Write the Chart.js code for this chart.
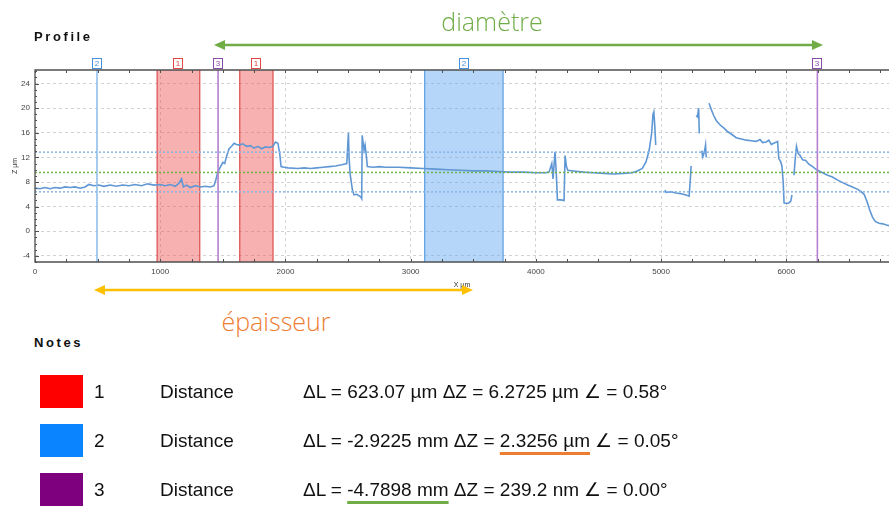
<!DOCTYPE html>
<html>
<head>
<meta charset="utf-8">
<script src="https://cdn.jsdelivr.net/npm/chart.js@4.4.0/dist/chart.umd.min.js"></script>
<style>
    body { margin: 0; width: 889px; height: 507px; overflow: hidden; position: relative; background: #fff; font-family: "Liberation Sans", Arial, sans-serif; color: #111; }
    #profile_chart { position: absolute; left: 0; top: 0; }
    #arrows { position: absolute; left: 0; top: 0; }
    .caption { position: absolute; font-weight: bold; font-size: 13px; letter-spacing: 2.6px; }
    .big_label { position: absolute; font-family: "Open Sans", sans-serif; font-weight: 300; font-size: 25px; line-height: 30px; white-space: nowrap; transform: translateX(-50%); }
    .note_row { position: absolute; left: 0; width: 889px; height: 33px; line-height: 33px; font-size: 19px; white-space: nowrap; }
    .note_row div { position: absolute; top: 0; }
    .swatch { left: 40px; width: 43px; height: 33px; }
</style>
</head>
<body>

<canvas id="profile_chart" width="889" height="300"></canvas>

<div class="caption" style="left:34px; top:29px;">Profile</div>
<div class="big_label" style="left:492px; top:6px; color:#70AD47;">diamètre</div>
<div class="big_label" style="left:276px; top:306px; color:#ED7D31;">épaisseur</div>
<div class="caption" style="left:34px; top:335px;">Notes</div>

<svg id="arrows" width="889" height="507">
    <line x1="222" y1="45" x2="815" y2="45" stroke="#70AD47" stroke-width="2.5"/>
    <polygon points="214,45 225,40 225,50" fill="#70AD47"/>
    <polygon points="823,45 812,40 812,50" fill="#70AD47"/>
    <line x1="102" y1="290" x2="465" y2="290" stroke="#FFC000" stroke-width="2.5"/>
    <polygon points="94,290 105,285 105,295" fill="#FFC000"/>
    <polygon points="473,290 462,285 462,295" fill="#FFC000"/>
</svg>

<div id="notes"></div>

<script>
// profil mesuré (X en µm, Z en µm), null = pas de mesure
var profileX = [
    0, 40, 80, 120, 160, 200, 240, 280, 320, 360,
    400, 430, 470, 510, 550, 600, 650, 700, 750, 800,
    850, 900, 950, 1000, 1040, 1080, 1120, 1150, 1170, 1185,
    1210, 1240, 1280, 1320, 1360, 1400, 1430, 1445, 1460, 1480,
    1500, 1515, 1530, 1550, 1570, 1590, 1610, 1630, 1660, 1690,
    1720, 1750, 1780, 1810, 1840, 1870, 1900, 1920, 1940, 1955,
    1965, 1990, 2020, 2100, 2150, 2200, 2250, 2300, 2350, 2400,
    2450, 2490, 2503, 2508, 2516, 2535, 2548, 2570, 2601, 2609,
    2613, 2628, 2636, 2647, 2654, 2700, 2750, 2800, 2900, 3000,
    3100, 3200, 3300, 3400, 3500, 3600, 3700, 3800, 3900, 4000,
    4079, 4105, 4127, 4137, 4153, 4164, 4172, 4200, 4225, 4233,
    4244, 4255, 4300, 4380, 4460, 4540, 4620, 4700, 4770, 4810,
    4850, 4880, 4905, 4925, 4935, 4942, 4950, 4957, 4990, 5032,
    5040, 5080, 5120, 5160, 5200, 5224, 5232, 5240, 5260, 5280,
    5290, 5300, 5305, 5315, 5325, 5332, 5345, 5355, 5360, 5370,
    5383, 5400, 5420, 5440, 5470, 5500, 5530, 5560, 5600, 5640,
    5680, 5720, 5760, 5790, 5810, 5840, 5860, 5880, 5900, 5930,
    5940, 5955, 5965, 5975, 5982, 6000, 6020, 6036, 6045, 6053,
    6061, 6070, 6081, 6095, 6110, 6130, 6155, 6180, 6210, 6248,
    6290, 6330, 6368, 6410, 6450, 6490, 6528, 6570, 6600, 6621,
    6645, 6665, 6688, 6710, 6741, 6770, 6800, 6820
];
var profileZ = [
    7.0, 6.9, 7.1, 6.9, 7.1, 7.0, 7.2, 7.1, 7.2, 7.0,
    7.2, 7.6, 7.4, 7.5, 7.3, 7.5, 7.3, 7.5, 7.4, 7.6,
    7.4, 7.7, 7.5, 7.6, 7.4, 7.6, 7.3, 7.8, 8.5, 7.2,
    7.5, 7.1, 7.4, 7.2, 7.3, 7.2, 7.4, 8.4, 9.6, 10.4,
    11.2, 11.0, 12.2, 13.4, 13.8, 14.3, 14.1, 14.0, 14.2, 13.8,
    13.9, 13.5, 13.8, 13.4, 13.7, 13.6, 13.8, 14.5, 14.3, 12.5,
    10.5, 10.4, 10.3, 10.2, 10.3, 10.2, 10.3, 10.4, 10.5, 10.6,
    10.8, 11.0, 16.0, 12.0, 9.4, 6.7, 5.9, 6.0, 5.6, 5.3,
    15.6, 13.2, 14.0, 12.1, 10.5, 10.4, 10.5, 10.4, 10.4, 10.3,
    10.2, 10.1, 10.0, 9.9, 9.8, 9.8, 9.7, 9.6, 9.6, 9.5,
    9.5, 9.6, 11.0, 8.5, 12.9, 9.0, 5.1, 5.1, 5.0, 12.3,
    10.5, 9.9, 9.8, 9.6, 9.5, 9.4, 9.3, 9.4, 9.5, 9.8,
    10.2, 11.3, 13.2, 16.0, 19.0, 19.4, 17.0, 14.0, null, 6.7,
    6.3, 6.4, 6.2, 6.1, 5.9, 5.7, 8.0, 10.6, null, 18.8,
    18.6, 20.0, 15.9, null, 13.1, 12.1, 12.8, 14.0, 12.0, null,
    20.8, 19.8, 18.8, 18.0, 17.3, 16.8, 16.2, 15.8, 15.2, 15.0,
    14.8, 14.7, 14.6, 14.9, 14.4, 14.5, 14.8, 14.1, 14.3, 14.6,
    11.8, 11.3, 10.6, 8.0, 4.6, 4.5, 4.6, 4.9, 5.9, null,
    9.1, 11.5, 13.8, 12.6, 12.3, 11.6, 11.5, 10.9, 10.5, 9.9,
    9.5, 9.1, 8.8, 8.3, 7.9, 7.5, 7.2, 6.8, 6.4, 6.0,
    4.8, 3.5, 2.3, 1.6, 1.3, 1.2, 1.0, 0.9
];

// bornes et graduations des axes
var xRange = [0, 6820];
var zRange = [-5, 26.2];
var xTicks = [0, 1000, 2000, 3000, 4000, 5000, 6000];
var zTicks = [-4, 0, 4, 8, 12, 16, 20, 24];

// curseurs : numéro de mesure, début et fin (ligne si début = fin)
var cursorIds = ['2', '1', '3', '1', '2', '3'];
var cursorFrom = [495, 975, 1462, 1635, 3112, 6248];
var cursorTo = [495, 1316, 1462, 1901, 3738, 6248];

// niveaux horizontaux des curseurs
var levelZ = [12.85, 9.55, 6.4];
var levelIds = ['2', '3', '2'];

// tableau des notes
var noteIds = ['1', '2', '3'];
var noteTypes = ['Distance', 'Distance', 'Distance'];
var noteDL = ['623.07 µm', '-2.9225 mm', '-4.7898 mm'];
var noteDZ = ['6.2725 µm', '2.3256 µm', '239.2 nm'];
var noteAngle = ['0.58°', '0.05°', '0.00°'];

/* --------------------- Styles --------------------- */

var cursorStyle = {
    '1': { fill: 'rgba(240, 90, 90, 0.47)', edge: 'rgba(215, 55, 55, 0.85)', line: '#e07070', tag: '#e04848' },
    '2': { fill: 'rgba(100, 170, 240, 0.48)', edge: '#5c9fe2', line: '#8fbfec', tag: '#4a90d9' },
    '3': { fill: 'rgba(160, 100, 200, 0.4)', edge: '#a46cc4', line: '#b580d0', tag: '#8a4aa8' }
};
var levelColor = { '2': '#86b5e6', '3': '#6bb445' };
var swatchColor = { '1': '#ff0000', '2': '#0a84ff', '3': '#7f007f' };
var tickFont = { size: 8, family: '"Liberation Sans", Arial, sans-serif' };

function fixedTicks(values) {
    return function (scale) {
        scale.ticks = values.map(function (v) { return { value: v }; });
    };
}

function plainLabel(v) {
    return String(v);
}

/* --------------------- Curseurs, cadre, graduations --------------------- */

var profileDecor = {
    id: 'profileDecor',
    beforeDatasetsDraw: function (chart) {
        var c = chart.ctx, a = chart.chartArea, xs = chart.scales.x;
        c.save();
        for (var i = 0; i < cursorIds.length; i++) {
            if (cursorTo[i] == cursorFrom[i]) continue;
            var st = cursorStyle[cursorIds[i]];
            var x1 = xs.getPixelForValue(cursorFrom[i]);
            var x2 = xs.getPixelForValue(cursorTo[i]);
            c.fillStyle = st.fill;
            c.fillRect(x1, a.top, x2 - x1, a.bottom - a.top);
            c.strokeStyle = st.edge;
            c.lineWidth = 1.2;
            c.beginPath();
            c.moveTo(x1, a.top); c.lineTo(x1, a.bottom);
            c.moveTo(x2, a.top); c.lineTo(x2, a.bottom);
            c.stroke();
        }
        c.restore();
    },
    afterDatasetsDraw: function (chart) {
        var c = chart.ctx, a = chart.chartArea, xs = chart.scales.x, ys = chart.scales.y;
        var i, x, y;
        c.save();

        // curseurs simples (lignes)
        for (i = 0; i < cursorIds.length; i++) {
            if (cursorTo[i] != cursorFrom[i]) continue;
            x = xs.getPixelForValue(cursorFrom[i]);
            c.strokeStyle = cursorStyle[cursorIds[i]].line;
            c.lineWidth = 1.6;
            c.beginPath();
            c.moveTo(x, a.top); c.lineTo(x, a.bottom);
            c.stroke();
        }

        // cadre
        c.strokeStyle = '#505050';
        c.lineWidth = 1.3;
        c.beginPath();
        c.moveTo(a.right, a.top); c.lineTo(a.left, a.top);
        c.lineTo(a.left, a.bottom); c.lineTo(a.right, a.bottom);
        c.stroke();

        // graduations vers l'intérieur
        c.lineWidth = 1;
        c.beginPath();
        for (var v = xRange[0]; v <= xRange[1]; v += 250) {
            x = Math.round(xs.getPixelForValue(v)) + 0.5;
            c.moveTo(x, a.bottom); c.lineTo(x, a.bottom - 3);
            c.moveTo(x, a.top); c.lineTo(x, a.top + 3);
        }
        for (var z = Math.ceil(zRange[0]); z <= zRange[1]; z++) {
            y = Math.round(ys.getPixelForValue(z)) + 0.5;
            c.moveTo(a.left, y); c.lineTo(a.left + (z % 4 == 0 ? 4 : 2), y);
        }
        c.stroke();

        // étiquettes des curseurs
        c.font = '8px "Liberation Sans", Arial, sans-serif';
        c.textAlign = 'center';
        c.textBaseline = 'middle';
        for (i = 0; i < cursorIds.length; i++) {
            var st = cursorStyle[cursorIds[i]];
            x = Math.round(xs.getPixelForValue((cursorFrom[i] + cursorTo[i]) / 2));
            c.fillStyle = '#fff';
            c.fillRect(x - 4.5, a.top - 11, 9, 10);
            c.strokeStyle = st.tag;
            c.lineWidth = 1;
            c.strokeRect(x - 4.5, a.top - 11.5, 9, 10);
            c.fillStyle = st.tag;
            c.fillText(cursorIds[i], x, a.top - 6);
        }
        c.restore();
    }
};

/* --------------------- Graphique du profil --------------------- */

var profilePoints = profileX.map(function (v, i) {
    return { x: v, y: profileZ[i] };
});

var datasets = levelZ.map(function (z, i) {
    return {
        data: [{ x: xRange[0], y: z }, { x: xRange[1], y: z }],
        showLine: true,
        borderColor: levelColor[levelIds[i]],
        borderWidth: 1.5,
        borderDash: [2, 2],
        pointRadius: 0
    };
});
datasets.push({
    data: profilePoints,
    showLine: true,
    spanGaps: false,
    borderColor: '#5f97d5',
    borderWidth: 1.6,
    pointRadius: 0,
    tension: 0
});

var ctx = document.getElementById('profile_chart').getContext('2d');
var chart = new Chart(ctx, {
    type: 'scatter',
    data: { datasets: datasets },
    options: {
        responsive: false,
        animation: false,
        layout: { padding: { top: 70, left: 0, right: 0, bottom: 0 } },
        plugins: {
            legend: { display: false },
            tooltip: { enabled: false }
        },
        scales: {
            x: {
                type: 'linear',
                min: xRange[0],
                max: xRange[1],
                afterBuildTicks: fixedTicks(xTicks),
                afterFit: function (s) { s.height = 38; },
                ticks: { autoSkip: false, maxRotation: 0, padding: 5, color: '#444', font: tickFont, callback: plainLabel },
                grid: { color: '#d2d2d2', drawTicks: false, lineWidth: 1 },
                border: { display: false, dash: [3, 3] },
                title: {
                    display: true,
                    text: 'X µm',
                    color: '#333',
                    font: { size: 7, family: tickFont.family },
                    padding: { top: 0, bottom: 11 }
                }
            },
            y: {
                type: 'linear',
                min: zRange[0],
                max: zRange[1],
                afterBuildTicks: fixedTicks(zTicks),
                afterFit: function (s) { s.width = 35; },
                ticks: { autoSkip: false, padding: 5, color: '#444', font: tickFont, callback: plainLabel },
                grid: { color: '#d2d2d2', drawTicks: false, lineWidth: 1 },
                border: { display: false, dash: [3, 3] },
                title: {
                    display: true,
                    text: 'Z µm',
                    color: '#333',
                    font: { size: 7, family: tickFont.family },
                    padding: { top: 11, bottom: 0 }
                }
            }
        }
    },
    plugins: [profileDecor]
});

/* --------------------- Notes --------------------- */

var underline = { 1: { dz: '#ED7D31' }, 2: { dl: '#70AD47' } };

function mark(text, color) {
    if (!color) return text;
    return '<span style="text-decoration:underline; text-decoration-color:' + color +
        '; text-decoration-thickness:3px; text-underline-offset:5px;">' + text + '</span>';
}

var notes = document.getElementById('notes');
for (var i = 0; i < noteIds.length; i++) {
    var u = underline[i] || {};
    var row = document.createElement('div');
    row.className = 'note_row';
    row.style.top = (375 + i * 49) + 'px';
    row.innerHTML =
        '<div class="swatch" style="background:' + swatchColor[noteIds[i]] + '"></div>' +
        '<div style="left:94px">' + noteIds[i] + '</div>' +
        '<div style="left:160px">' + noteTypes[i] + '</div>' +
        '<div style="left:303px">ΔL = ' + mark(noteDL[i], u.dl) + ' ΔZ = ' + mark(noteDZ[i], u.dz) +
        ' ∠ = ' + noteAngle[i] + '</div>';
    notes.appendChild(row);
}
</script>
</body>
</html>
